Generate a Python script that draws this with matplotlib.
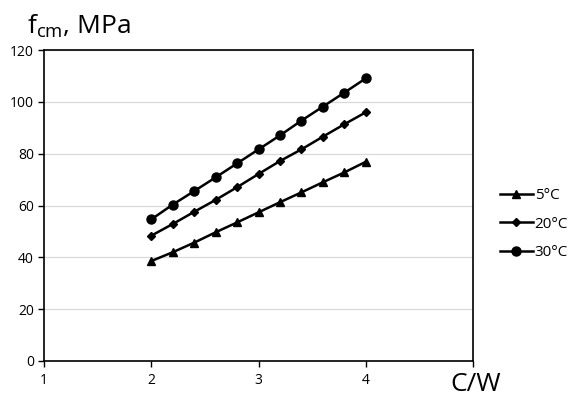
import numpy as np
import matplotlib
matplotlib.use('Agg', force=True)
import matplotlib.pyplot as plt

plt.rcParams['font.family'] = ['Open Sans', 'DejaVu Sans']

# C/W ratio
cw = [2.0, 2.2, 2.4, 2.6, 2.8, 3.0, 3.2, 3.4, 3.6, 3.8, 4.0]
# compressive strength, MPa
f_5 = [38.6, 42.0, 45.7, 49.7, 53.5, 57.4, 61.3, 65.1, 69.0, 72.8, 76.9]
f_20 = [48.4, 52.9, 57.6, 62.2, 67.1, 72.2, 77.2, 81.7, 86.6, 91.4, 96.0]
f_30 = [54.7, 60.4, 65.6, 70.9, 76.3, 81.7, 87.1, 92.8, 98.2, 103.6, 109.1]
labels = ['5\u00b0C', '20\u00b0C', '30\u00b0C']
xticks = [1, 2, 3, 4, 5]
xticklabels = ['1', '2', '3', '4', '']
yticks = [0, 20, 40, 60, 80, 100, 120]

fig = plt.figure(figsize=(5.74, 3.98), dpi=100)
ax = fig.add_axes([0.077, 0.093, 0.747, 0.781])

ax.plot(cw, f_5, color='black', lw=1.8, marker='^', ms=6, label=labels[0])
ax.plot(cw, f_20, color='black', lw=1.8, marker='D', ms=4.5, label=labels[1])
ax.plot(cw, f_30, color='black', lw=1.8, marker='o', ms=6.5, label=labels[2])

ax.set_xlim(1, 5)
ax.set_ylim(0, 120)
ax.set_xticks(xticks)
ax.set_xticklabels(xticklabels)
ax.set_yticks(yticks)
ax.yaxis.grid(True, color='#d9d9d9', lw=0.9)
ax.set_axisbelow(True)
ax.tick_params(direction='out', length=4, width=1, labelsize=10, colors='black')
ax.tick_params(axis='x', pad=5)
for s in ax.spines.values():
    s.set_color('black')
    s.set_linewidth(1.2)

fig.text(0.047, 0.915, 'f$_{\\mathregular{cm}}$, MPa', fontsize=19, va='baseline', ha='left')
fig.text(0.785, 0.018, 'C/W', fontsize=19, va='baseline', ha='left')

leg = ax.legend(loc='center left', bbox_to_anchor=(1.03, 0.44), frameon=False,
                fontsize=11, handlelength=2.2, handletextpad=0.1, labelspacing=0.9)

fig.savefig('out.png', dpi=100)
